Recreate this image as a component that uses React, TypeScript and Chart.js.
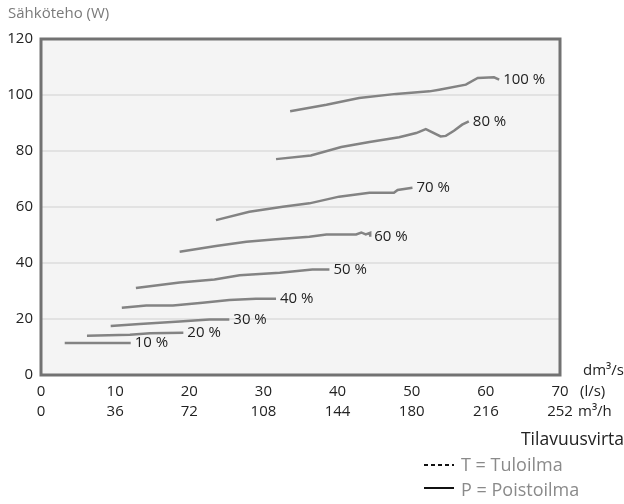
import React, { useEffect, useRef } from "react";
import { Chart, registerables } from "chart.js";

Chart.register(...registerables);

// Axis ticks
const flowTicksLs = [0, 10, 20, 30, 40, 50, 60, 70];
const flowTicksM3h = [0, 36, 72, 108, 144, 180, 216, 252];
const powerTicks = [0, 20, 40, 60, 80, 100, 120];

// Series labels
const seriesLabels = ["10 %", "20 %", "30 %", "40 %", "50 %", "60 %", "70 %", "80 %", "100 %"];

// Series values: flow (l/s) and power (W)
const flow10 = [3.2, 12.1];
const power10 = [11.4, 11.4];
const flow20 = [6.2, 12.0, 14.7, 19.2];
const power20 = [14.0, 14.4, 14.9, 15.1];
const flow30 = [9.4, 13.3, 18.7, 22.7, 25.4];
const power30 = [17.5, 18.2, 19.1, 19.8, 19.8];
const flow40 = [10.9, 14.2, 17.8, 21.8, 25.4, 29.0, 31.7];
const power40 = [24.0, 24.8, 24.8, 25.8, 26.8, 27.2, 27.2];
const flow50 = [12.8, 18.7, 23.4, 26.8, 32.2, 36.6, 38.9];
const power50 = [31.1, 33.0, 34.1, 35.6, 36.5, 37.7, 37.7];
const flow60 = [18.7, 23.6, 27.7, 31.7, 36.2, 38.5, 42.5, 43.2, 43.8, 44.4, 44.4];
const power60 = [44.0, 46.1, 47.6, 48.5, 49.4, 50.2, 50.2, 50.9, 50.2, 50.8, 49.4];
const flow70 = [23.6, 28.1, 32.6, 36.2, 40.2, 44.3, 47.6, 48.1, 50.1];
const power70 = [55.3, 58.3, 60.1, 61.3, 63.7, 65.1, 65.1, 66.1, 66.9];
const flow80 = [31.7, 36.4, 40.5, 44.3, 48.3, 50.6, 51.9, 53.9, 54.6, 55.7, 56.8, 57.7];
const power80 = [77.1, 78.4, 81.4, 83.2, 84.9, 86.4, 87.8, 85.2, 85.4, 87.2, 89.4, 90.6];
const flow100 = [33.6, 38.5, 42.9, 47.9, 52.4, 53.7, 57.3, 58.9, 61.1, 61.8];
const power100 = [94.2, 96.5, 98.9, 100.4, 101.3, 101.9, 103.7, 106.1, 106.3, 105.5];

const flows = [flow10, flow20, flow30, flow40, flow50, flow60, flow70, flow80, flow100];
const powers = [power10, power20, power30, power40, power50, power60, power70, power80, power100];

const FONT = "'Open Sans', sans-serif";

const decorPlugin = {
  id: "decor",
  beforeDraw(chart: any) {
    const { ctx, chartArea } = chart;
    ctx.save();
    ctx.fillStyle = "#f4f4f4";
    ctx.fillRect(chartArea.left, chartArea.top, chartArea.right - chartArea.left, chartArea.bottom - chartArea.top);
    ctx.restore();
  },
  afterDraw(chart: any) {
    const { ctx, chartArea } = chart;
    ctx.save();
    // frame
    ctx.strokeStyle = "#727272";
    ctx.lineWidth = 3;
    ctx.strokeRect(chartArea.left, chartArea.top, chartArea.right - chartArea.left, chartArea.bottom - chartArea.top);

    // series end labels
    ctx.font = "15px " + FONT;
    ctx.fillStyle = "#222";
    ctx.textBaseline = "middle";
    ctx.textAlign = "left";
    chart.data.datasets.forEach((ds: any, i: number) => {
      const meta = chart.getDatasetMeta(i);
      const pts = meta.data;
      if (!pts.length) return;
      let maxX = pts[0].x;
      let yAt = pts[0].y;
      pts.forEach((p: any) => {
        if (p.x >= maxX) {
          maxX = p.x;
          yAt = p.y;
        }
      });
      ctx.fillText(ds.label, maxX + 4, yAt);
    });

    // title
    ctx.fillStyle = "#7a7a7a";
    ctx.font = "15px " + FONT;
    ctx.fillText("Sähköteho (W)", 8, 14);

    // units
    ctx.fillStyle = "#222";
    ctx.fillText("dm³/s", 583, 371);
    ctx.fillText("(l/s)", 580, 392);
    ctx.fillText("m³/h", 578, 412);

    // axis name
    ctx.font = "17.5px " + FONT;
    ctx.textAlign = "right";
    ctx.fillText("Tilavuusvirta", 624, 440);

    // legend
    ctx.textAlign = "left";
    ctx.strokeStyle = "#111";
    ctx.lineWidth = 2;
    ctx.setLineDash([4, 3]);
    ctx.beginPath();
    ctx.moveTo(424, 465);
    ctx.lineTo(454, 465);
    ctx.stroke();
    ctx.setLineDash([]);
    ctx.beginPath();
    ctx.moveTo(424, 488);
    ctx.lineTo(454, 488);
    ctx.stroke();
    ctx.font = "18px " + FONT;
    ctx.fillStyle = "#8a8a8a";
    ctx.fillText("T = Tuloilma", 461, 466);
    ctx.fillText("P = Poistoilma", 461, 491);
    ctx.restore();
  },
};

export default function App() {
  const ref = useRef<HTMLCanvasElement | null>(null);

  useEffect(() => {
    if (!ref.current) return;
    const datasets = seriesLabels.map((label, i) => ({
      label,
      data: flows[i].map((x, j) => ({ x, y: powers[i][j] })),
      borderColor: "#838383",
      borderWidth: 2.5,
      pointRadius: 0,
      tension: 0,
      fill: false,
      clip: false as any,
    }));
    const chart = new Chart(ref.current, {
      type: "line",
      data: { datasets },
      options: {
        animation: false,
        responsive: false,
        devicePixelRatio: 1,
        layout: { padding: { top: 39, right: 64, left: 0, bottom: 0 } },
        plugins: {
          legend: { display: false },
          tooltip: { enabled: false },
        },
        scales: {
          x: {
            type: "linear",
            min: 0,
            max: 70,
            afterFit: (s: any) => {
              s.height = 129;
            },
            afterBuildTicks: (s: any) => {
              s.ticks = flowTicksLs.map((v) => ({ value: v }));
            },
            grid: { display: false, drawTicks: false },
            border: { display: false },
            ticks: {
              padding: 7,
              maxRotation: 0,
              autoSkip: false,
              color: "#222",
              font: { size: 15, family: FONT, lineHeight: 1.34 },
              callback: (v: any) => {
                const i = flowTicksLs.indexOf(Number(v));
                return [String(flowTicksLs[i]), String(flowTicksM3h[i])];
              },
            },
          },
          y: {
            type: "linear",
            min: 0,
            max: 120,
            afterFit: (s: any) => {
              s.width = 41;
            },
            afterBuildTicks: (s: any) => {
              s.ticks = powerTicks.map((v) => ({ value: v }));
            },
            grid: { color: "#e2e2e2", lineWidth: 2, drawTicks: false },
            border: { display: false },
            ticks: {
              padding: 8,
              color: "#222",
              font: { size: 15, family: FONT },
            },
          },
        },
      },
      plugins: [decorPlugin],
    });
    return () => chart.destroy();
  }, []);

  return (
    <div style={{ position: "fixed", left: 0, top: 0, width: 624, height: 504, background: "#fff" }}>
      <canvas ref={ref} width={624} height={504} style={{ width: 624, height: 504, display: "block" }} />
    </div>
  );
}
